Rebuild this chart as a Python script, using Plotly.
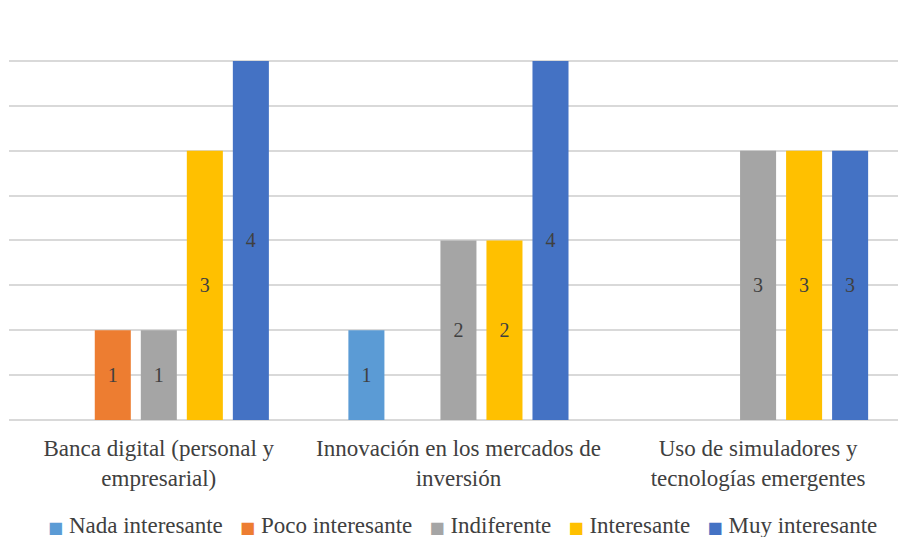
import plotly.graph_objects as go

categories = ["Banca digital (personal y<br>empresarial)",
              "Innovación en los mercados de<br>inversión",
              "Uso de simuladores y<br>tecnologías emergentes"]
series_names = ["Nada interesante", "Poco interesante", "Indiferente", "Interesante", "Muy interesante"]
nada = [0, 1, 0]
poco = [1, 0, 0]
indiferente = [1, 2, 3]
interesante = [3, 2, 3]
muy = [4, 4, 3]
colors = ["#5B9BD5", "#ED7D31", "#A5A5A5", "#FFC000", "#4472C4"]

FONT = "Liberation Serif"
W, H = 898, 537
fig = go.Figure()
for name, vals, col in zip(series_names, [nada, poco, indiferente, interesante, muy], colors):
    fig.add_trace(go.Bar(
        x=categories, y=vals, name=name, marker=dict(color=col, line=dict(width=0)),
        text=[str(v) if v else "" for v in vals], textposition="inside",
        insidetextanchor="middle", textangle=0,
        textfont=dict(family=FONT, size=20, color="#404040"),
        showlegend=False,
    ))

# Excel-style compact legend built from the series names and colours
legend_html = "&nbsp;&nbsp;&nbsp;".join(
    f"<span style='color:{c};font-size:16px;font-family:DejaVu Sans'>■</span>&nbsp;{n}"
    for n, c in zip(series_names, colors))
fig.add_annotation(text=legend_html, xref="paper", yref="paper", x=0.51, y=-0.26,
                   xanchor="center", yanchor="middle", showarrow=False,
                   font=dict(family=FONT, size=23, color="#404040"))

fig.update_layout(
    width=W, height=H,
    margin=dict(l=9, r=0, t=16, b=117),
    paper_bgcolor="white", plot_bgcolor="white",
    barmode="group", bargap=0.232, bargroupgap=0.217,
    font=dict(family=FONT, color="#404040"),
    xaxis=dict(range=[-0.5, 2.467], showgrid=False, showline=False, ticks="",
               automargin=False, ticklabelstandoff=12,
               tickfont=dict(family=FONT, size=23, color="#404040")),
    yaxis=dict(range=[0, 4.5], dtick=0.5, showticklabels=False, showgrid=True,
               gridcolor="#D9D9D9", gridwidth=1.5, zeroline=True, zerolinecolor="#D9D9D9",
               zerolinewidth=1.5, showline=False, ticks="", automargin=False),
    showlegend=False,
)
fig.write_html("out.html", config={"displayModeBar": False},
               post_script="document.documentElement.style.margin='0';"
                           "document.body.style.margin='0';"
                           "document.body.style.overflow='hidden';")
